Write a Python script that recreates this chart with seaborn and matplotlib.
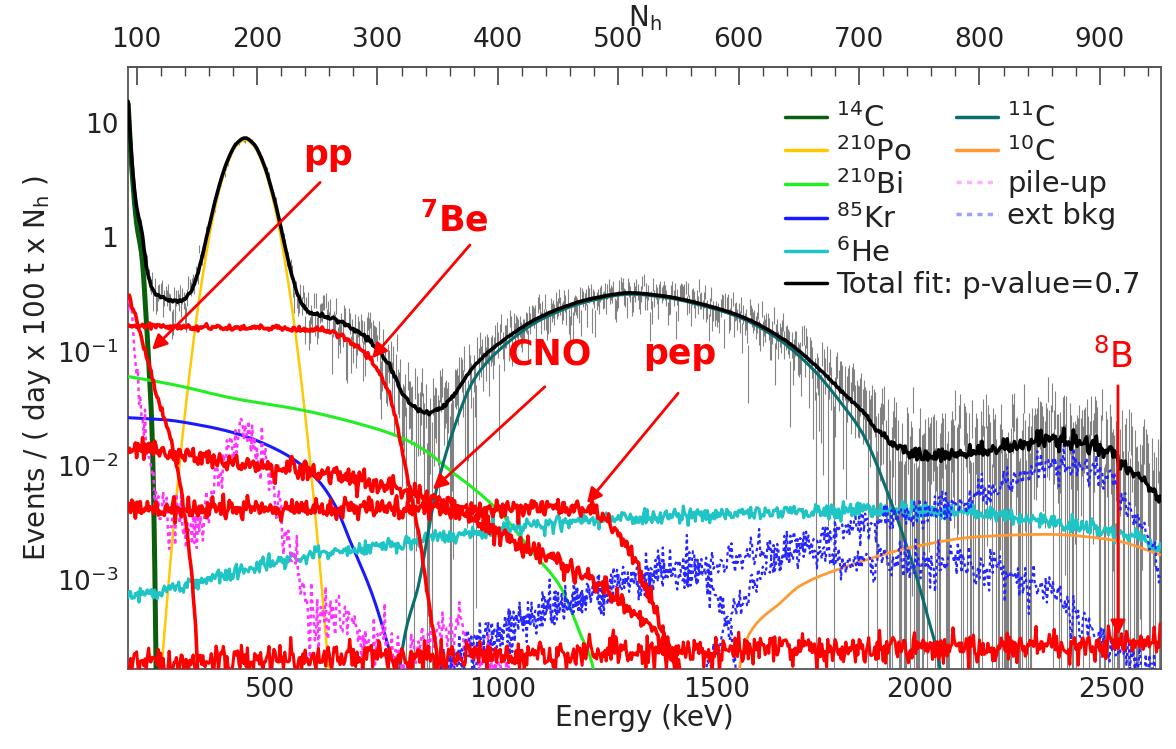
import numpy as np
import pandas as pd
import matplotlib
matplotlib.use("Agg")
import matplotlib.pyplot as plt
from matplotlib.lines import Line2D
from matplotlib.ticker import FixedLocator, FixedFormatter, NullFormatter
import seaborn as sns

sns.set_theme(style="white")
plt.rcParams["font.family"] = ["DejaVu Sans"]
plt.rcParams["mathtext.fontset"] = "dejavusans"

# ---------------------------------------------------------------- binning
NH_LO, NH_HI = 92.8, 950.7
nh = np.arange(93.0, 951.0, 1.0)

# energy axis: keV values and their Nh position
energy_major_kev = [500, 1000, 1500, 2000, 2500]
energy_major_nh = [210.8, 404.3, 582.0, 750.3, 909.8]

# ---------------------------------------------------------------- components
# each: Nh anchor points and log10(events / day / 100 t / Nh)
c14_nh = [92.8, 96, 100, 104.5, 108, 111, 112.5, 114, 115.5, 117]
c14_lg = [1.2, 0.6, 0.12, -0.18, -0.72, -1.28, -1.6, -2.2, -3.2, -4.6]

po210_nh = [112, 118, 125, 132, 142, 153, 165, 175, 183, 190, 197, 205, 215, 227, 238, 248, 255, 262, 268]
po210_lg = [-5.2, -4.15, -3.22, -2.39, -1.37, -0.47, 0.25, 0.63, 0.80, 0.85, 0.80, 0.63, 0.25, -0.47, -1.37, -2.39, -3.22, -4.15, -5.2]

bi210_nh = [92.8, 130, 180, 235.7, 280, 318.7, 340, 360, 380, 402, 429, 452, 468, 479, 488]
bi210_lg = [-1.22, -1.29, -1.41, -1.51, -1.62, -1.75, -1.87, -2.04, -2.2, -2.41, -2.76, -3.06, -3.46, -3.76, -4.6]

kr85_nh = [92.8, 125, 150, 180, 222, 250, 265, 277, 296.5, 310.6, 316, 321]
kr85_lg = [-1.58, -1.6, -1.64, -1.71, -1.89, -2.12, -2.35, -2.65, -3.15, -3.64, -3.85, -4.6]

he6_nh = [92.8, 150, 235.7, 318.7, 402, 485, 568, 651, 745, 828, 870, 911, 950.7]
he6_lg = [-3.15, -3.02, -2.8, -2.68, -2.56, -2.47, -2.43, -2.40, -2.39, -2.45, -2.5, -2.58, -2.72]

c11_nh = [314, 318.7, 335, 349, 363, 380, 402, 440, 480, 510, 540, 570, 600, 634, 662, 685, 703, 726, 745, 757, 767, 774]
c11_lg = [-4.8, -3.76, -3.0, -2.21, -1.69, -1.25, -0.98, -0.70, -0.55, -0.50, -0.53, -0.60, -0.70, -0.90, -1.16, -1.45, -1.72, -2.3, -2.88, -3.32, -3.76, -4.6]

c10_nh = [596, 601, 610, 634.5, 651, 690, 745, 800, 856, 911, 950.7]
c10_lg = [-4.6, -3.75, -3.45, -3.2, -3.05, -2.88, -2.71, -2.62, -2.60, -2.65, -2.78]

pileup_nh = [92.8, 96, 100, 106, 115, 125, 135, 147, 160, 175, 188, 200, 210, 217, 227, 236, 245, 260, 275, 290, 305, 320, 340, 360, 380, 400, 420]
pileup_lg = [-0.45, -0.8, -1.2, -1.7, -2.2, -2.45, -2.55, -2.56, -2.25, -1.95, -1.75, -1.85, -2.05, -2.27, -2.65, -3.0, -3.3, -3.35, -3.3, -3.55, -3.55, -3.75, -3.5, -3.45, -3.6, -3.7, -4.4]

k40_nh = [330, 360, 420, 480, 530, 560, 575, 588, 597, 606]
k40_lg = [-4.2, -3.7, -3.35, -3.1, -2.95, -2.9, -3.0, -3.3, -3.7, -4.6]
bi214_nh = [340, 400, 460, 520, 580, 634, 717, 800, 856, 884, 911, 950.7]
bi214_lg = [-4.0, -3.5, -3.2, -3.0, -2.85, -2.75, -2.82, -2.88, -3.11, -3.32, -3.6, -3.8]
tl208_nh = [560, 590, 620, 651, 717, 773, 828, 870, 898, 925, 950.7]
tl208_lg = [-4.2, -3.4, -2.95, -2.7, -2.47, -2.36, -2.15, -1.98, -2.06, -2.36, -2.94]

pp_nh = [92.8, 105, 117, 130, 136, 142, 147, 150, 152, 154]
pp_lg = [-0.49, -0.92, -1.38, -1.84, -2.15, -2.59, -3.1, -3.58, -4.2, -5.0]

be7_nh = [92.8, 150, 200, 240, 260, 280, 294, 302, 310, 318.7, 327, 335, 344, 350, 354]
be7_lg = [-0.78, -0.79, -0.80, -0.81, -0.83, -0.93, -1.07, -1.2, -1.38, -1.77, -2.2, -2.65, -3.29, -3.72, -4.6]

cno_nh = [92.8, 150, 235.7, 318.7, 374, 402, 429, 457, 485, 513, 535, 549, 557]
cno_lg = [-1.84, -1.93, -2.04, -2.21, -2.41, -2.59, -2.74, -2.88, -3.06, -3.29, -3.52, -3.75, -4.5]

pep_nh = [92.8, 200, 300, 400, 471, 490, 507, 521, 532, 540, 549, 556]
pep_lg = [-2.38, -2.38, -2.37, -2.37, -2.37, -2.47, -2.71, -3.0, -3.29, -3.58, -3.76, -4.5]

b8_nh = [92.8, 300, 500, 634, 800, 950.7]
b8_lg = [-3.72, -3.68, -3.64, -3.61, -3.58, -3.55]


def pchip(x, y, xn):
    """Monotone cubic Hermite curve through the anchor points (log space)."""
    x = np.asarray(x, float)
    y = np.asarray(y, float)
    h = np.diff(x)
    d = np.diff(y) / h
    m = np.zeros_like(y)
    m[0], m[-1] = d[0], d[-1]
    for k in range(1, len(x) - 1):
        if d[k - 1] * d[k] > 0:
            w1 = 2 * h[k] + h[k - 1]
            w2 = h[k] + 2 * h[k - 1]
            m[k] = (w1 + w2) / (w1 / d[k - 1] + w2 / d[k])
    i = np.clip(np.searchsorted(x, xn) - 1, 0, len(x) - 2)
    t = (xn - x[i]) / h[i]
    out = ((2 * t**3 - 3 * t**2 + 1) * y[i] + (t**3 - 2 * t**2 + t) * h[i] * m[i]
           + (-2 * t**3 + 3 * t**2) * y[i + 1] + (t**3 - t**2) * h[i] * m[i + 1])
    out[(xn < x[0]) | (xn > x[-1])] = -9.0
    return out


rng = np.random.default_rng(11)


def spectrum(x_anchor, lg_anchor, jitter=0.0):
    lg = pchip(x_anchor, lg_anchor, nh)
    if jitter:
        lg = lg + jitter * rng.standard_normal(nh.size)
    return 10.0 ** lg


RED = "#ff0000"
DOT = (0, (1.5, 1.5))
comp = {
    "C14":    dict(y=spectrum(c14_nh, c14_lg), color="#0a5f0a", lw=3.6, ls="-"),
    "Po210":  dict(y=spectrum(po210_nh, po210_lg), color="#ffc800", lw=1.8, ls="-"),
    "Bi210":  dict(y=spectrum(bi210_nh, bi210_lg), color="#22ee22", lw=2.2, ls="-"),
    "Kr85":   dict(y=spectrum(kr85_nh, kr85_lg), color="#1a1aff", lw=2.2, ls="-"),
    "He6":    dict(y=spectrum(he6_nh, he6_lg, 0.035), color="#1fc4c4", lw=2.2, ls="-"),
    "C11":    dict(y=spectrum(c11_nh, c11_lg), color="#0b6e6e", lw=2.2, ls="-"),
    "C10":    dict(y=spectrum(c10_nh, c10_lg), color="#ff9933", lw=2.0, ls="-"),
    "pileup": dict(y=spectrum(pileup_nh, pileup_lg, 0.12), color="#ff33ff", lw=1.8, ls=DOT),
    "K40":    dict(y=spectrum(k40_nh, k40_lg, 0.09), color="#2626ff", lw=1.6, ls=DOT),
    "Bi214":  dict(y=spectrum(bi214_nh, bi214_lg, 0.09), color="#2626ff", lw=1.6, ls=DOT),
    "Tl208":  dict(y=spectrum(tl208_nh, tl208_lg, 0.07), color="#2626ff", lw=1.6, ls=DOT),
    "pp":     dict(y=spectrum(pp_nh, pp_lg, 0.02), color=RED, lw=2.6, ls="-"),
    "Be7":    dict(y=spectrum(be7_nh, be7_lg, 0.012), color=RED, lw=2.6, ls="-"),
    "CNO":    dict(y=spectrum(cno_nh, cno_lg, 0.045), color=RED, lw=2.6, ls="-"),
    "pep":    dict(y=spectrum(pep_nh, pep_lg, 0.045), color=RED, lw=2.6, ls="-"),
    "B8":     dict(y=spectrum(b8_nh, b8_lg, 0.07), color=RED, lw=2.2, ls="-"),
}

total = np.sum([c["y"] for c in comp.values()], axis=0)

# measured spectrum with Poisson-like uncertainties
rel_err = np.minimum(0.09 / np.sqrt(total), 0.95)
z_data = rng.standard_normal(nh.size)
data = np.clip(total * (1.0 + rel_err * z_data), 1e-7, None)
err = rel_err * total
data_lo = np.clip(data - err, 1e-7, None)
data_hi = data + err

# ---------------------------------------------------------------- figure
fig = plt.figure(figsize=(11.76, 7.49), dpi=100)
ax = fig.add_axes([0.1088, 0.1068, 0.8784, 0.8037])
ax.set_yscale("log")
ax.set_xlim(NH_LO, NH_HI)
ax.set_ylim(1.67e-4, 30.6)

ax.vlines(nh, data_lo, data_hi, colors="#505050", lw=0.8, alpha=0.7, zorder=1)

draw_order = ["C14", "Po210", "Bi210", "Kr85", "He6", "C11", "C10", "pileup",
              "K40", "Bi214", "Tl208", "B8", "pep", "CNO", "pp", "Be7"]
for key in draw_order:
    c = comp[key]
    df = pd.DataFrame({"nh": nh, "rate": c["y"]})
    sns.lineplot(data=df, x="nh", y="rate", ax=ax, color=c["color"], lw=c["lw"],
                 linestyle=c["ls"], estimator=None, sort=False, legend=False, zorder=3)

sns.lineplot(x=nh, y=total, ax=ax, color="black", lw=2.6, estimator=None,
             sort=False, legend=False, zorder=4)

ax.set_xlim(NH_LO, NH_HI)
ax.set_ylim(1.67e-4, 30.6)

# y axis
ax.yaxis.set_major_locator(FixedLocator([1e-3, 1e-2, 1e-1, 1, 10]))
ax.yaxis.set_major_formatter(FixedFormatter([r"$10^{-3}$", r"$10^{-2}$", r"$10^{-1}$", "1", "10"]))
minor_y = [m * 10.0 ** e for e in range(-4, 2) for m in range(2, 10)]
ax.yaxis.set_minor_locator(FixedLocator(minor_y))
ax.yaxis.set_minor_formatter(NullFormatter())
ax.set_ylabel(r"Events / ( day x 100 t x N$_{\mathrm{h}}$ )", fontsize=20, color="#222222")
ax.yaxis.set_label_coords(-0.073, 0.5)

# bottom axis: energy in keV placed on the Nh scale
e2nh = np.polyfit(energy_major_kev, energy_major_nh, 3)
ax.xaxis.set_major_locator(FixedLocator(energy_major_nh))
ax.xaxis.set_major_formatter(FixedFormatter([str(e) for e in energy_major_kev]))
minor_e = [e for e in range(300, 2700, 100) if e % 500]
ax.xaxis.set_minor_locator(FixedLocator(np.polyval(e2nh, minor_e)))
ax.set_xlabel("Energy (keV)", fontsize=20, color="#222222")
ax.xaxis.set_label_coords(0.5, -0.058)
ax.xaxis.label.set_va("top")

ax.tick_params(axis="y", which="major", direction="in", length=19, width=1.1,
               labelsize=19, pad=7, colors="#333333", labelcolor="#222222", right=False)
ax.tick_params(axis="y", which="minor", direction="in", length=9, width=1.0, colors="#444444")
ax.tick_params(axis="x", which="major", direction="in", length=14, width=1.1,
               labelsize=19, pad=6, colors="#333333", labelcolor="#222222", top=False)
ax.tick_params(axis="x", which="minor", direction="in", length=7, width=1.0, colors="#444444", top=False)

# top axis: Nh
top = ax.secondary_xaxis("top")
top.xaxis.set_major_locator(FixedLocator(list(range(100, 1000, 100))))
top.xaxis.set_minor_locator(FixedLocator([v for v in range(100, 951, 20) if v % 100]))
top.tick_params(which="major", direction="in", length=13, width=1.1, labelsize=19,
                pad=10, colors="#333333", labelcolor="#222222")
top.tick_params(which="minor", direction="in", length=6.5, width=1.0, colors="#444444")
top.set_xlabel(r"N$_{\mathrm{h}}$", fontsize=20, color="#222222", labelpad=1)

for s in list(ax.spines.values()) + list(top.spines.values()):
    s.set_color("#555555")
    s.set_linewidth(1.3)

# ---------------------------------------------------------------- annotations
txt_kw = dict(color=RED, fontsize=25, ha="center", va="center", zorder=6)
arr_kw = dict(arrowstyle="-|>", color=RED, lw=2.0, mutation_scale=22, shrinkA=0, shrinkB=0)

ax.text(259, 5.2, "pp", fontweight="bold", **txt_kw)
ax.annotate("", xy=(112.8, 0.103), xytext=(252.4, 3.0), arrowprops=arr_kw, zorder=6)

ax.text(364, 1.4, r"$^{\mathbf{7}}$Be", fontweight="bold", **txt_kw)
ax.annotate("", xy=(295.5, 0.087), xytext=(376.8, 0.85), arrowprops=arr_kw, zorder=6)

ax.text(443, 0.094, "CNO", fontweight="bold", **txt_kw)
ax.annotate("", xy=(346, 0.0062), xytext=(439, 0.049), arrowprops=arr_kw, zorder=6)

ax.text(551, 0.094, "pep", fontweight="bold", **txt_kw)
ax.annotate("", xy=(474, 0.0047), xytext=(549.7, 0.043), arrowprops=arr_kw, zorder=6)

ax.text(911, 0.089, r"$^{8}$B", **txt_kw)
ax.annotate("", xy=(915, 3.3e-4), xytext=(915, 0.05), arrowprops=arr_kw, zorder=6)

# ---------------------------------------------------------------- legend
leg_font = 21
h1 = [Line2D([], [], color=comp["C14"]["color"], lw=2.5),
      Line2D([], [], color=comp["Po210"]["color"], lw=2.5),
      Line2D([], [], color=comp["Bi210"]["color"], lw=2.5),
      Line2D([], [], color=comp["Kr85"]["color"], lw=2.5),
      Line2D([], [], color=comp["He6"]["color"], lw=2.5),
      Line2D([], [], color="black", lw=2.5)]
l1 = [r"$^{14}$C", r"$^{210}$Po", r"$^{210}$Bi", r"$^{85}$Kr", r"$^{6}$He", "Total fit: p-value=0.7"]
h2 = [Line2D([], [], color=comp["C11"]["color"], lw=2.5),
      Line2D([], [], color=comp["C10"]["color"], lw=2.5),
      Line2D([], [], color="#ffb0ff", lw=2.5, ls=DOT),
      Line2D([], [], color="#a0a0ff", lw=2.5, ls=DOT)]
l2 = [r"$^{11}$C", r"$^{10}$C", "pile-up", "ext bkg"]

leg_kw = dict(frameon=False, fontsize=leg_font, handlelength=1.45, handletextpad=0.3,
              labelspacing=0.13, borderpad=0, borderaxespad=0, loc="upper left")
leg1 = ax.legend(h1, l1, bbox_to_anchor=(785 / 1176, 1 - 103 / 749),
                 bbox_transform=fig.transFigure, **leg_kw)
for t in leg1.get_texts():
    t.set_color("#222222")
ax.add_artist(leg1)
leg2 = ax.legend(h2, l2, bbox_to_anchor=(956 / 1176, 1 - 103 / 749),
                 bbox_transform=fig.transFigure, **leg_kw)
for t in leg2.get_texts():
    t.set_color("#222222")

fig.savefig("out.png", dpi=100, facecolor="white")
